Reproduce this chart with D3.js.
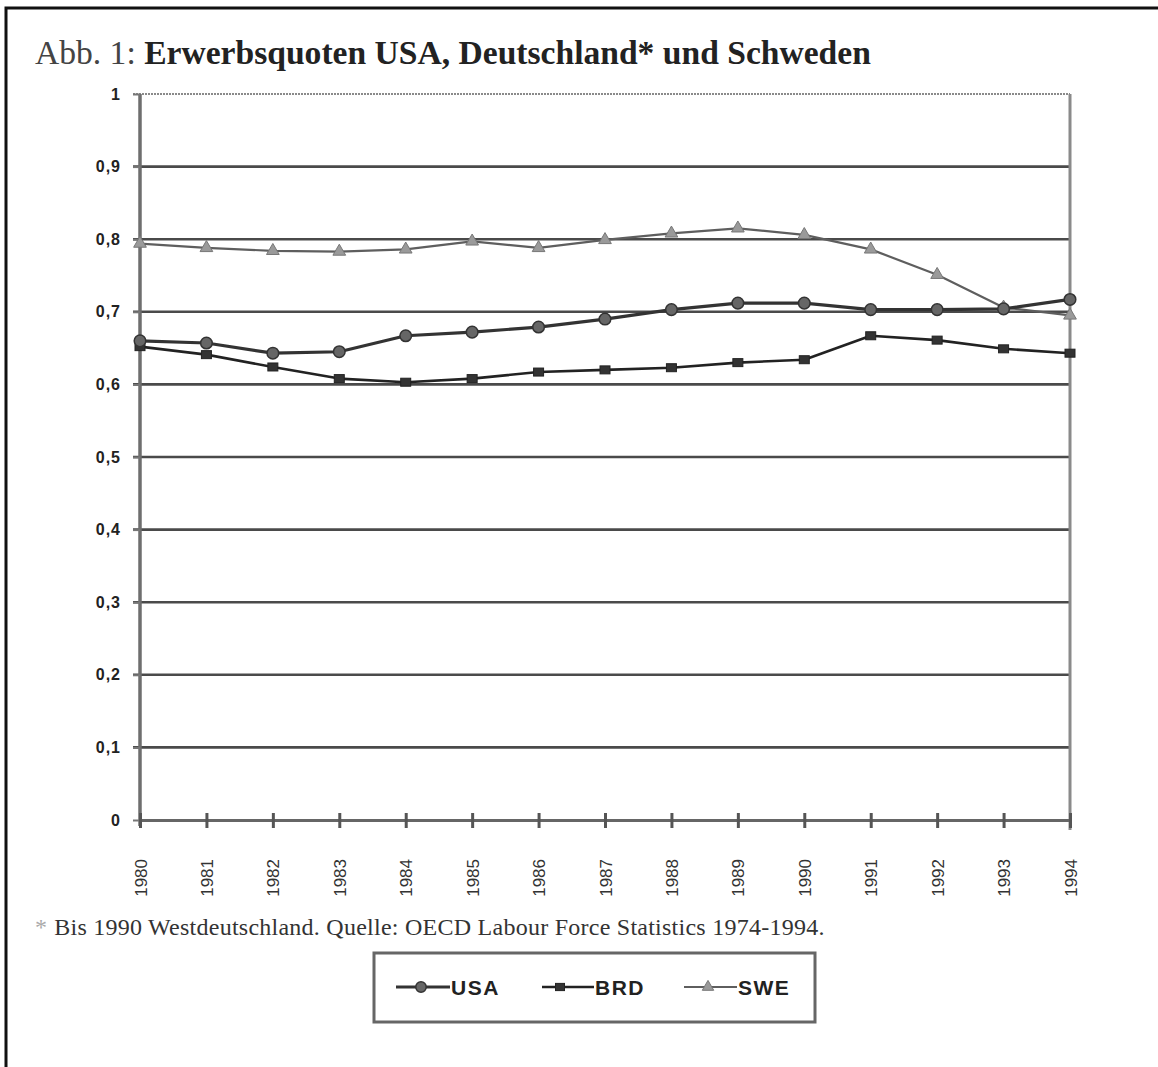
<!DOCTYPE html>
<html>
<head>
<meta charset="utf-8">
<script src="https://cdn.jsdelivr.net/npm/d3@7"></script>
<style>
  html, body { margin: 0; padding: 0; background: #fff; }
  svg { display: block; }
</style>
</head>
<body>
<svg id="chart" width="1158" height="1067"></svg>
<script>
// Erwerbsquoten 1980–1994
const years = [1980, 1981, 1982, 1983, 1984, 1985, 1986, 1987, 1988, 1989, 1990, 1991, 1992, 1993, 1994];
const usa = [0.660, 0.657, 0.643, 0.645, 0.667, 0.672, 0.679, 0.690, 0.703, 0.712, 0.712, 0.703, 0.703, 0.704, 0.717];
const brd = [0.652, 0.641, 0.624, 0.608, 0.603, 0.608, 0.617, 0.620, 0.623, 0.630, 0.634, 0.667, 0.661, 0.649, 0.643];
const swe = [0.794, 0.788, 0.784, 0.783, 0.786, 0.797, 0.788, 0.799, 0.808, 0.815, 0.806, 0.786, 0.751, 0.706, 0.695];
const yTicks = [0, 0.1, 0.2, 0.3, 0.4, 0.5, 0.6, 0.7, 0.8, 0.9, 1];
const seriesNames = ["USA", "BRD", "SWE"];

const svg = d3.select("#chart");

// outer frame (top and left edge)
svg.append("path")
  .attr("d", "M6,1067 L6,8 L1158,8")
  .attr("fill", "none").attr("stroke", "#111").attr("stroke-width", 3);

// title
const title = svg.append("text")
  .attr("x", 35).attr("y", 64)
  .attr("font-family", "'Liberation Serif', 'Times New Roman', serif")
  .attr("font-size", 33.6).attr("fill", "#222");
title.append("tspan").attr("fill", "#444").text("Abb. 1: ");
title.append("tspan").attr("font-weight", "bold").text("Erwerbsquoten USA, Deutschland* und Schweden");

const x = d3.scaleLinear().domain([1980, 1994]).range([140, 1070]);
const y = d3.scaleLinear().domain([0, 1]).range([820, 94]);

// horizontal grid lines
svg.append("g").selectAll("line")
  .data(yTicks.filter(t => t > 0))
  .join("line")
  .attr("x1", 133).attr("x2", x(1994))
  .attr("y1", d => y(d)).attr("y2", d => y(d))
  .attr("stroke", d => d === 1 ? "#8a8a8a" : "#4a4a4a")
  .attr("stroke-width", d => d === 1 ? 2 : 2.6)
  .attr("stroke-dasharray", d => d === 1 ? "2,1" : null);

// right border of plot area
svg.append("line")
  .attr("x1", x(1994)).attr("x2", x(1994))
  .attr("y1", y(1)).attr("y2", y(0) + 10)
  .attr("stroke", "#8a8a8a").attr("stroke-width", 3);

// y axis
const yAxis = svg.append("g")
  .attr("transform", `translate(${x(1980)},0)`)
  .call(d3.axisLeft(y).tickValues(yTicks)
    .tickFormat(d => d === 0 ? "0" : d === 1 ? "1" : d3.format(".1f")(d).replace(".", ","))
    .tickSize(7).tickPadding(12));
yAxis.select(".domain").attr("stroke", "#6e6e6e").attr("stroke-width", 3.5)
  .attr("d", `M0,${y(1)}V${y(0) + 6}`);
yAxis.selectAll(".tick line").attr("stroke", "#777").attr("stroke-width", 2);
yAxis.selectAll(".tick text")
  .attr("font-family", "'Liberation Sans', Arial, sans-serif")
  .attr("font-weight", "bold").attr("font-size", 16)
  .attr("letter-spacing", 1).attr("fill", "#222");

// x axis with crossing tick marks
const xAxis = svg.append("g")
  .attr("transform", `translate(0,${y(0)})`)
  .call(d3.axisBottom(x).tickValues(years).tickFormat(d3.format("d")).tickSize(0).tickPadding(0));
xAxis.select(".domain").attr("stroke", "#666").attr("stroke-width", 3);
xAxis.selectAll(".tick line").attr("y1", -7).attr("y2", 8).attr("stroke", "#555").attr("stroke-width", 3);
xAxis.selectAll(".tick text")
  .attr("font-family", "'Liberation Sans', Arial, sans-serif")
  .attr("font-size", 17).attr("fill", "#333")
  .attr("text-anchor", "end")
  .attr("transform", "translate(6,39) rotate(-90)")
  .attr("dy", 0).attr("y", 0).attr("x", 0);

// series lines
const line = d3.line().x((d, i) => x(years[i])).y(d => y(d));
const styles = {
  USA: { data: usa, stroke: "#333", width: 3.2, fill: "#666" },
  BRD: { data: brd, stroke: "#222", width: 2.6, fill: "#333" },
  SWE: { data: swe, stroke: "#5e5e5e", width: 2.2, fill: "#9a9a9a" }
};

const drawMarker = (g, name, cx, cy, s) => {
  const st = styles[name];
  if (name === "USA") {
    g.append("circle").attr("cx", cx).attr("cy", cy).attr("r", 5.8 * s)
      .attr("fill", st.fill).attr("stroke", "#333").attr("stroke-width", 1.5);
  } else if (name === "BRD") {
    g.append("rect").attr("x", cx - 5 * s).attr("y", cy - 4 * s)
      .attr("width", 10 * s).attr("height", 8 * s)
      .attr("fill", st.fill).attr("stroke", "#222").attr("stroke-width", 1);
  } else {
    g.append("path")
      .attr("d", d3.symbol().type(d3.symbolTriangle).size(70 * s * s)())
      .attr("transform", `translate(${cx},${cy})`)
      .attr("fill", st.fill).attr("stroke", "#777").attr("stroke-width", 1);
  }
};

["SWE", "BRD", "USA"].forEach(name => {
  const st = styles[name];
  svg.append("path").datum(st.data)
    .attr("d", line).attr("fill", "none")
    .attr("stroke", st.stroke).attr("stroke-width", st.width)
    .attr("stroke-linejoin", "round");
  const g = svg.append("g");
  st.data.forEach((v, i) => drawMarker(g, name, x(years[i]), y(v), 1));
});

// footnote
const foot = svg.append("text")
  .attr("x", 35).attr("y", 935)
  .attr("font-family", "'Liberation Serif', 'Times New Roman', serif")
  .attr("font-size", 24).attr("letter-spacing", 0.25).attr("fill", "#333");
foot.append("tspan").attr("fill", "#aaa").text("*");
foot.append("tspan").attr("dx", 7).text("Bis 1990 Westdeutschland. Quelle: OECD Labour Force Statistics 1974-1994.");

// legend
const legend = svg.append("g");
legend.append("rect")
  .attr("x", 374).attr("y", 953).attr("width", 441).attr("height", 69)
  .attr("fill", "none").attr("stroke", "#666").attr("stroke-width", 3);
const legendItems = [
  { name: "USA", x0: 396, x1: 450, mx: 421 },
  { name: "BRD", x0: 542, x1: 594, mx: 560 },
  { name: "SWE", x0: 684, x1: 737, mx: 708 }
];
legendItems.forEach(it => {
  const st = styles[it.name];
  legend.append("line")
    .attr("x1", it.x0).attr("x2", it.x1).attr("y1", 987).attr("y2", 987)
    .attr("stroke", st.stroke).attr("stroke-width", st.width);
  drawMarker(legend, it.name, it.mx, 987, 0.9);
  legend.append("text")
    .attr("x", it.x1 + 1).attr("y", 995)
    .attr("font-family", "'Liberation Sans', Arial, sans-serif")
    .attr("font-weight", "bold").attr("font-size", 21)
    .attr("letter-spacing", 1.5).attr("fill", "#222")
    .text(it.name);
});
</script>
</body>
</html>
